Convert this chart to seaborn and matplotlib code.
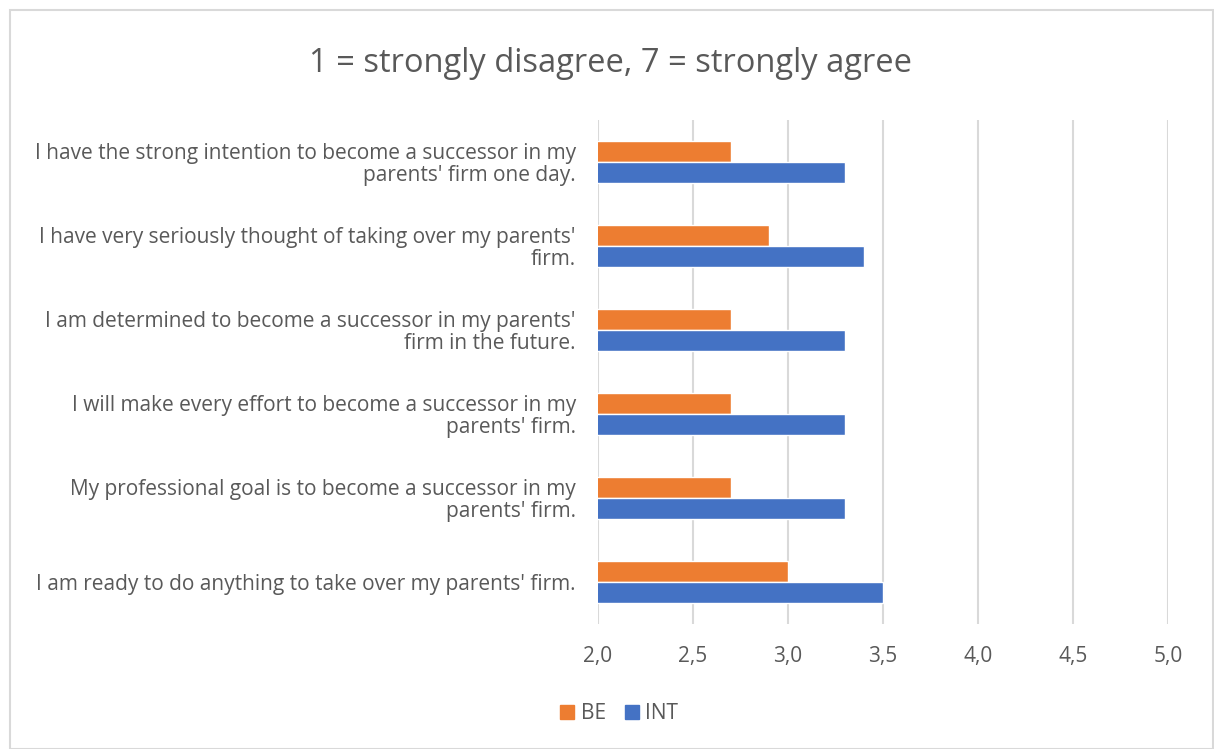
import matplotlib
matplotlib.use("Agg")
import matplotlib.pyplot as plt
import matplotlib.patches as mpatches
import seaborn as sns
import pandas as pd

statements = [
    "I have the strong intention to become a successor in my\nparents' firm one day.",
    "I have very seriously thought of taking over my parents'\nfirm.",
    "I am determined to become a successor in my parents'\nfirm in the future.",
    "I will make every effort to become a successor in my\nparents' firm.",
    "My professional goal is to become a successor in my\nparents' firm.",
    "I am ready to do anything to take over my parents' firm.",
]
be_values = [2.7, 2.9, 2.7, 2.7, 2.7, 3.0]
int_values = [3.3, 3.4, 3.3, 3.3, 3.3, 3.5]
groups = ["BE", "INT"]
x_ticks = [2.0, 2.5, 3.0, 3.5, 4.0, 4.5, 5.0]
x_tick_labels = ["2,0", "2,5", "3,0", "3,5", "4,0", "4,5", "5,0"]
title = "1 = strongly disagree, 7 = strongly agree"

colors = {"BE": "#ED7D31", "INT": "#4472C4"}
text_color = "#595959"

df = pd.DataFrame({
    "statement": statements * 2,
    "group": ["BE"] * len(statements) + ["INT"] * len(statements),
    "score": be_values + int_values,
})

sns.set_theme(style="white")
plt.rcParams["font.family"] = ["Open Sans", "DejaVu Sans"]

fig = plt.figure(figsize=(12.14, 7.49), dpi=100)
ax = fig.add_axes([0.4926, 0.1669, 0.4695, 0.6729])

sns.barplot(data=df, y="statement", x="score", hue="group", order=statements,
            hue_order=groups, palette=colors, width=0.5, orient="h",
            saturation=1, ax=ax, legend=False)

ax.set_xlim(2.0, 5.0)
ax.set_ylim(len(statements) - 0.5, -0.5)
ax.set_xticks(x_ticks)
ax.set_xticklabels(x_tick_labels)
ax.set_xlabel("")
ax.set_ylabel("")
ax.grid(axis="x", color="#D9D9D9", linewidth=1.5)
ax.set_axisbelow(True)
for s in ax.spines.values():
    s.set_visible(False)
ax.tick_params(axis="x", labelsize=15, colors=text_color, length=0, pad=16)
ax.tick_params(axis="y", labelsize=15, colors=text_color, length=0, pad=16)
for lbl in ax.get_yticklabels():
    lbl.set_horizontalalignment("right")
    lbl.set_multialignment("right")
    lbl.set_linespacing(1.05)

fig.text(0.503, 0.915, title, ha="center", va="center", fontsize=23.5, color=text_color)

handles = [mpatches.Patch(color=colors[g], label=g) for g in groups]
leg = fig.legend(handles=handles, loc="center", bbox_to_anchor=(0.51, 0.047), ncol=2,
                 frameon=False, fontsize=15, handlelength=0.7, handleheight=0.7,
                 handletextpad=0.3, columnspacing=0.9)
for t in leg.get_texts():
    t.set_color(text_color)

border = mpatches.Rectangle((10 / 1214, 0), (1213 - 10) / 1214, 1 - 10 / 749,
                            transform=fig.transFigure, fill=False,
                            edgecolor="#D9D9D9", linewidth=1.5)
fig.patches.append(border)

fig.savefig("out.png", dpi=100, facecolor="white")
